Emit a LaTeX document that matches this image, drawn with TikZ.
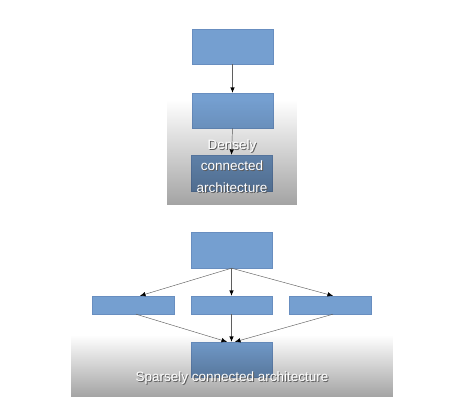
\documentclass[tikz,border=0pt]{standalone}
\usepackage{fontspec}
\setmainfont{Liberation Sans}
\usepackage{tikz}
\usetikzlibrary{calc}
\usetikzlibrary{fadings}
\usetikzlibrary{arrows.meta}
\definecolor{boxblue}{RGB}{117,159,208}
\definecolor{boxedge}{RGB}{104,142,192}
\definecolor{linkgray}{RGB}{95,95,95}
\tikzset{>={Latex[length=5.5pt,width=4.5pt,black]}}
\tikzfading[name=panelfade, top color=transparent!100, bottom color=transparent!0]
\tikzset{
  block/.style={draw=boxedge, line width=0.4pt, fill=boxblue, inner sep=0pt,
    minimum width=81pt},
  link/.style={->, draw=linkgray, line width=0.45pt},
  caption/.style={text=white, font=\fontsize{13.5}{21.5}\selectfont, align=center, inner sep=0pt}
}
\newcommand{\shtxt}[1]{\makebox[0pt][l]{\raisebox{-1pt}{\hspace{1pt}\textcolor{black!65}{#1}}}#1}

\begin{document}
\begin{tikzpicture}[x=1pt,y=1pt]
\useasboundingbox (0,0) rectangle (475,411);

% --- Densely connected: a chain of three ---
\node[block, minimum height=35pt] (d1) at (232.5,364.5) {};
\node[block, minimum height=35pt] (d2) at (232.5,300.5) {};
\node[block, minimum height=36pt] (d3) at (231.5,238) {};

\draw[link] (d1.south) -- (d2.north);
\draw[link] (d2.south) -- (d3.north);

% grey shade over the lower part
\fill[black, opacity=0.36, path fading=panelfade] (167,311) rectangle (297,206);

\node[caption] (dlab) at (232,244.5)
  {\shtxt{Densely}\\\shtxt{connected}\\\shtxt{architecture}};

% --- Sparsely connected: fan out, fan in ---
\node[block, minimum height=36pt] (s1) at (231.5,161) {};
\node[block, minimum height=18pt, minimum width=82pt] (s2) at (133,106) {};
\node[block, minimum height=18pt] (s3) at (231.5,106) {};
\node[block, minimum height=18pt, minimum width=82pt] (s4) at (330,106) {};
\node[block, minimum height=35pt] (s5) at (231.5,51.5) {};

\draw[link] (s1.south) -- ($(s2.north)+(7,0)$);
\draw[link] (s1.south) -- (s3.north);
\draw[link] (s1.south) -- ($(s4.north)+(3,0)$);

\draw[link] ($(s2.south)+(3,0)$) -- ($(s5.north)+(-4.5,0)$);
\draw[link] (s3.south) -- (s5.north);
\draw[link] ($(s4.south)+(3,0)$) -- ($(s5.north)+(3.5,0)$);

\fill[black, opacity=0.36, path fading=panelfade] (71,76) rectangle (393,14);

\node[caption] (slab) at (232,32) {\shtxt{Sparsely connected architecture}};

\end{tikzpicture}
\end{document}
